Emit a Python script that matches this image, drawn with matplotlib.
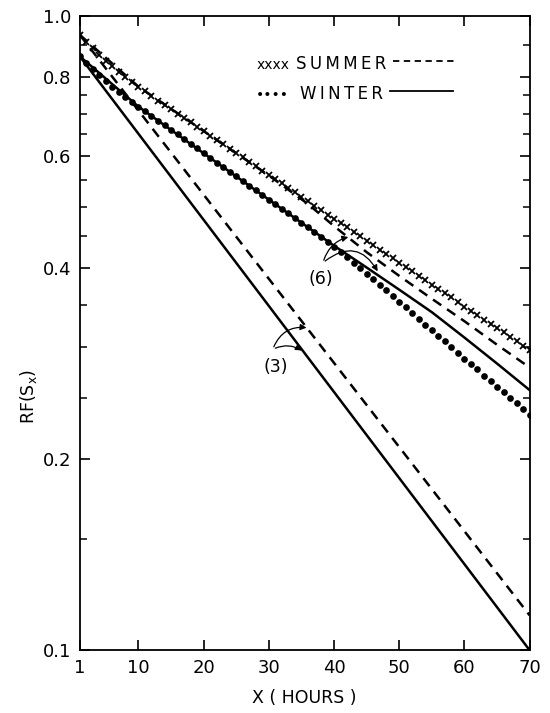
import matplotlib
matplotlib.use("Agg")
import matplotlib.pyplot as plt
from matplotlib.ticker import FixedLocator, NullFormatter

# hours (one measurement per hour)
hours = list(range(1, 71))

# observed RF, summer (x markers)
summer_obs = [0.933, 0.910, 0.888, 0.868, 0.849, 0.832, 0.816, 0.800, 0.786, 0.773,
              0.760, 0.747, 0.735, 0.724, 0.712, 0.701, 0.690, 0.679, 0.668, 0.658,
              0.647, 0.637, 0.627, 0.617, 0.608, 0.598, 0.588, 0.579, 0.570, 0.561,
              0.552, 0.544, 0.535, 0.527, 0.518, 0.510, 0.502, 0.494, 0.486, 0.479,
              0.471, 0.464, 0.456, 0.449, 0.442, 0.435, 0.428, 0.421, 0.415, 0.408,
              0.402, 0.396, 0.389, 0.383, 0.377, 0.371, 0.365, 0.360, 0.354, 0.348,
              0.343, 0.337, 0.332, 0.327, 0.322, 0.317, 0.312, 0.307, 0.302, 0.297]

# observed RF, winter (dots)
winter_obs = [0.863, 0.842, 0.823, 0.805, 0.789, 0.773, 0.759, 0.745, 0.732, 0.719,
              0.707, 0.695, 0.683, 0.672, 0.661, 0.650, 0.639, 0.628, 0.618, 0.607,
              0.597, 0.587, 0.577, 0.568, 0.558, 0.549, 0.540, 0.531, 0.522, 0.513,
              0.505, 0.496, 0.488, 0.480, 0.472, 0.464, 0.456, 0.448, 0.440, 0.432,
              0.424, 0.416, 0.408, 0.400, 0.392, 0.384, 0.376, 0.369, 0.361, 0.354,
              0.347, 0.340, 0.333, 0.326, 0.320, 0.313, 0.307, 0.301, 0.294, 0.288,
              0.283, 0.277, 0.271, 0.266, 0.260, 0.255, 0.250, 0.245, 0.240, 0.235]

# model (3): straight on the log axis
m3_x = [1, 70]
summer_m3 = [0.933, 0.1135]
winter_m3 = [0.863, 0.100]

# model (6)
m6_x = [1, 10, 20, 30, 36, 40, 45, 50, 55, 60, 65, 70]
summer_m6 = [0.933, 0.773, 0.658, 0.560, 0.505, 0.466, 0.424, 0.389, 0.358, 0.330, 0.303, 0.279]
winter_m6 = [0.863, 0.719, 0.607, 0.513, 0.464, 0.434, 0.401, 0.370, 0.341, 0.311, 0.283, 0.257]

x_ticks = [1, 10, 20, 30, 40, 50, 60, 70]
y_ticks = [0.1, 0.2, 0.4, 0.6, 0.8, 1.0]
y_minor = [0.15, 0.25, 0.3, 0.35, 0.45, 0.5, 0.55, 0.65, 0.7, 0.75, 0.9]

fig = plt.figure(figsize=(5.5, 7.13), dpi=100)
ax = fig.add_axes([0.145, 0.088, 0.818, 0.890])

lw = 1.8
dash = (4, 2.8)
ax.plot(m3_x, summer_m3, color='black', lw=lw, dashes=dash)
ax.plot(m3_x, winter_m3, color='black', lw=lw)
ax.plot(m6_x, summer_m6, color='black', lw=lw, dashes=dash)
ax.plot(m6_x, winter_m6, color='black', lw=lw)
ax.plot(hours, summer_obs, linestyle='none', marker='x', ms=5, mew=1.3, color='black')
ax.plot(hours, winter_obs, linestyle='none', marker='o', ms=3.8, color='black')

ax.set_yscale('log')
ax.set_xlim(1, 70)
ax.set_ylim(0.1, 1.0)
ax.set_xticks(x_ticks)
ax.set_xticklabels([str(t) for t in x_ticks])
ax.yaxis.set_major_locator(FixedLocator(y_ticks))
ax.set_yticklabels(['%.1f' % t for t in y_ticks])
ax.yaxis.set_minor_locator(FixedLocator(y_minor))
ax.yaxis.set_minor_formatter(NullFormatter())
ax.xaxis.set_minor_locator(FixedLocator([]))

for s in ax.spines.values():
    s.set_linewidth(1.3)
ax.tick_params(which='major', direction='in', length=7, width=1.2,
               top=True, right=True, labelsize=13, pad=6)
ax.tick_params(which='minor', direction='in', length=5, width=1.1,
               left=True, right=True)

ax.set_xlabel('X ( HOURS )', fontsize=12.5, labelpad=9)
ax.set_ylabel('RF(S$_\\mathregular{x}$)', fontsize=12.5)
ax.yaxis.set_label_coords(-0.091, 0.40)

# key
ts = '\u2009'
ax.text(0.394, 0.916, 'xxxx', transform=ax.transAxes, fontsize=10, va='baseline', ha='left')
ax.text(0.481, 0.916, ts.join('SUMMER'), transform=ax.transAxes, fontsize=12,
        va='baseline', ha='left')
ax.plot([0.697, 0.840], [0.929, 0.929], transform=ax.transAxes, color='black',
        lw=1.3, dashes=(3.5, 2.5))
ax.text(0.392, 0.869, '\u2022\u2022\u2022\u2022', transform=ax.transAxes, fontsize=10,
        va='baseline', ha='left')
ax.text(0.490, 0.869, ts.join('WINTER'), transform=ax.transAxes, fontsize=12,
        va='baseline', ha='left')
ax.plot([0.690, 0.830], [0.882, 0.882], transform=ax.transAxes, color='black', lw=1.3)

# (6) and (3) labels with arrows
arrow = dict(arrowstyle='-|>', color='black', lw=0.9, mutation_scale=9)
ax.text(38, 0.384, '(6)', fontsize=12.5, ha='center', va='center')
ax.annotate('', xy=(42.6, 0.449), xytext=(38.3, 0.408),
            arrowprops=dict(arrow, connectionstyle='arc3,rad=-0.3'))
ax.annotate('', xy=(46.9, 0.392), xytext=(38.3, 0.408),
            arrowprops=dict(arrow, connectionstyle='arc3,rad=-0.6'))
ax.text(31.0, 0.280, '(3)', fontsize=12.5, ha='center', va='center')
ax.annotate('', xy=(36.2, 0.322), xytext=(30.6, 0.298),
            arrowprops=dict(arrow, connectionstyle='arc3,rad=-0.4'))
ax.annotate('', xy=(35.4, 0.295), xytext=(30.6, 0.298),
            arrowprops=dict(arrow, connectionstyle='arc3,rad=-0.3'))

fig.savefig('out.png', dpi=100)
